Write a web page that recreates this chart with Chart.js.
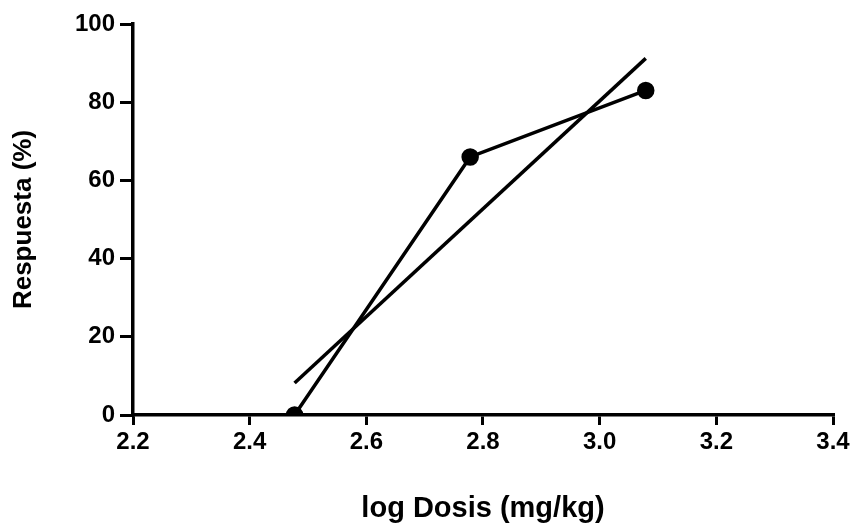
<!DOCTYPE html>
<html>
<head>
<meta charset="utf-8">
<script src="https://cdn.jsdelivr.net/npm/chart.js@4.4.1/dist/chart.umd.min.js"></script>
<style>
  html, body { margin: 0; padding: 0; background: #fff; }
  #wrap { width: 854px; height: 523px; }
</style>
</head>
<body>
<div id="wrap"><canvas id="doseChart" width="854" height="523"></canvas></div>
<script>
// log dose vs response
const logDose = [2.477, 2.778, 3.079];
const respuesta = [0, 66, 83];

// fitted straight line, endpoints
const fitX = [2.477, 3.079];
const fitY = [8.2, 91.2];

const xTicks = [2.2, 2.4, 2.6, 2.8, 3.0, 3.2, 3.4];
const yTicks = [0, 20, 40, 60, 80, 100];

const toPoints = (xs, ys) => xs.map((x, i) => ({ x: x, y: ys[i] }));

const tickFont = { family: 'Liberation Sans, Arial, sans-serif', size: 24, weight: 'bold' };
const xTitleFont = { family: 'Liberation Sans, Arial, sans-serif', size: 29, weight: 'bold' };
const yTitleFont = { family: 'Liberation Sans, Arial, sans-serif', size: 26, weight: 'bold' };

const ctx = document.getElementById('doseChart').getContext('2d');

new Chart(ctx, {
    type: 'scatter',
    data: {
        datasets: [{
            label: 'Respuesta',
            data: toPoints(logDose, respuesta),
            showLine: true,
            borderColor: '#000',
            backgroundColor: '#000',
            borderWidth: 3.5,
            pointRadius: 7,
            pointHoverRadius: 7
        }, {
            label: 'Ajuste',
            data: toPoints(fitX, fitY),
            showLine: true,
            borderColor: '#000',
            borderWidth: 3.5,
            pointRadius: 0
        }]
    },
    options: {
        responsive: false,
        animation: false,
        layout: { padding: { top: 24, right: 21, left: 0, bottom: 0 } },
        plugins: { legend: { display: false }, tooltip: { enabled: false } },
        scales: {
            x: {
                type: 'linear',
                min: 2.2,
                max: 3.4,
                afterBuildTicks: axis => { axis.ticks = xTicks.map(v => ({ value: v })); },
                afterFit: axis => { axis.height = 108; },
                ticks: {
                    color: '#000',
                    font: tickFont,
                    padding: 3,
                    maxRotation: 0,
                    callback: v => v.toFixed(1)
                },
                grid: {
                    drawOnChartArea: false,
                    drawTicks: true,
                    tickLength: 10,
                    color: '#000',
                    lineWidth: 3
                },
                border: { color: '#000', width: 3.5 },
                title: {
                    display: true,
                    text: 'log Dosis (mg/kg)',
                    color: '#000',
                    font: xTitleFont,
                    padding: { top: 0, bottom: -3 }
                }
            },
            y: {
                type: 'linear',
                min: 0,
                max: 100,
                afterBuildTicks: axis => { axis.ticks = yTicks.map(v => ({ value: v })); },
                afterFit: axis => { axis.width = 133; },
                ticks: {
                    color: '#000',
                    font: tickFont,
                    padding: 5
                },
                grid: {
                    drawOnChartArea: false,
                    drawTicks: true,
                    tickLength: 13,
                    color: '#000',
                    lineWidth: 3
                },
                border: { color: '#000', width: 3.5 },
                title: {
                    display: true,
                    text: 'Respuesta (%)',
                    color: '#000',
                    font: yTitleFont,
                    padding: { top: 8, bottom: 0 }
                }
            }
        }
    }
});
</script>
</body>
</html>
